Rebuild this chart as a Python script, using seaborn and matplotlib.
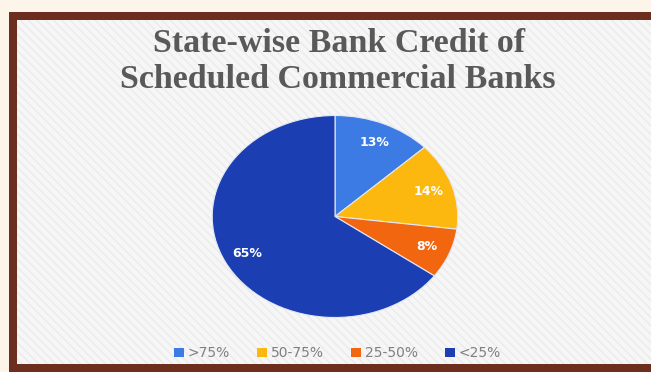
import matplotlib
matplotlib.use("Agg")
import matplotlib.pyplot as plt
from matplotlib.patches import Rectangle
import seaborn as sns

categories = [">75%", "50-75%", "25-50%", "<25%"]
shares = [13, 14, 8, 65]
colors = ["#3b7be3", "#fdb80f", "#f2660f", "#1b3fb3"]
title_lines = ["State-wise Bank Credit of", "Scheduled Commercial Banks"]

sns.set_theme(style="white")
plt.rcParams["font.family"] = ["DejaVu Sans"]
plt.rcParams["hatch.color"] = "#ebebeb"
plt.rcParams["hatch.linewidth"] = 1.0

W, H = 651, 372
fig = plt.figure(figsize=(W / 100, H / 100), dpi=100)
fig.patch.set_facecolor("#fdf5e9")

def fx(px):
    return px / W

def fy(py):
    return 1 - py / H

# inner panel with faint diagonal hatching
panel = Rectangle((fx(17), fy(364)), fx(W) - fx(17), fy(20) - fy(364),
                  transform=fig.transFigure, facecolor="#f6f6f6",
                  edgecolor="#ebebeb", hatch="\\\\\\\\", linewidth=0, zorder=-2)
fig.patches.append(panel)

# brown frame
frame_col = "#6b2e1f"
for x0, y0, x1, y1 in [(9, 12, W, 20), (9, 12, 17, 372), (9, 364, W, 372)]:
    fig.patches.append(Rectangle((fx(x0), fy(y1)), fx(x1) - fx(x0), fy(y0) - fy(y1),
                                 transform=fig.transFigure, facecolor=frame_col,
                                 linewidth=0, zorder=-1))

# title
fig.text(fx(339), fy(43), title_lines[0], ha="center", va="center",
         fontsize=24.5, fontweight="bold", color="#595959",
         family=["Liberation Serif"])
fig.text(fx(338), fy(80), title_lines[1], ha="center", va="center",
         fontsize=24.5, fontweight="bold", color="#595959",
         family=["Liberation Serif"])

# pie (stretched horizontally)
cx, cy, rx, ry = 335, 216.5, 124, 102
ax = fig.add_axes([fx(cx - rx), fy(cy + ry), 2 * rx / W, 2 * ry / H])
ax.set_zorder(2)
ax.patch.set_alpha(0)
wedges, texts, autotexts = ax.pie(
    shares, colors=colors, startangle=90, counterclock=False,
    autopct=lambda p: f"{p:.0f}%", pctdistance=0.8, radius=1,
    wedgeprops=dict(linewidth=0.8, edgecolor="#e4e8f4"),
    textprops=dict(color="white", fontsize=9, fontweight="bold"))
ax.set_aspect("auto")
ax.set_xlim(-1.01, 1.01)
ax.set_ylim(-1.01, 1.01)
ax.axis("off")

# legend
handles = [Rectangle((0, 0), 1, 1, facecolor=c, edgecolor="none") for c in colors]
leg = fig.legend(handles, categories, loc="center", bbox_to_anchor=(fx(337.5), fy(353)),
                 ncol=4, frameon=False, fontsize=10, labelcolor="#808080",
                 handlelength=0.7, handleheight=0.6, handletextpad=0.25,
                 columnspacing=2.0)
leg.set_zorder(3)

fig.savefig("out.png", dpi=100, facecolor=fig.get_facecolor())
